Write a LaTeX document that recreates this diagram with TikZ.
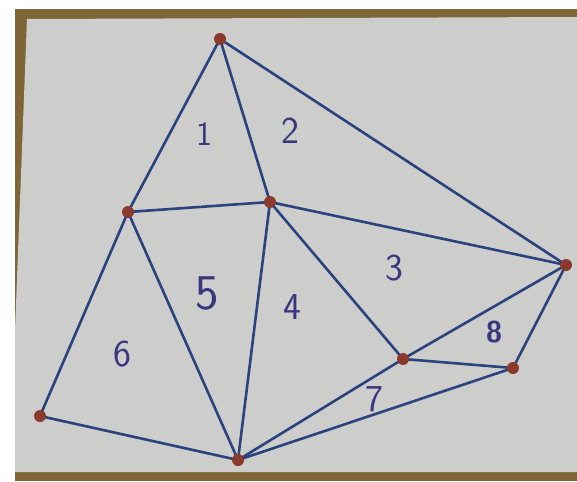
\documentclass[tikz,border=0pt]{standalone}
\usepackage{xcolor}
\definecolor{frame}{HTML}{7F6636}
\definecolor{paper}{HTML}{CDCECB}
\definecolor{wire}{HTML}{2A437F}
\definecolor{knob}{HTML}{8A3A2C}
\definecolor{ink}{HTML}{3A357F}
\usepackage{tikz}
\usetikzlibrary{positioning}

\begin{document}
\begin{tikzpicture}[x=1pt, y=-1pt,
    wire/.style={draw=wire, line width=2.6pt},
    knob/.style={circle, fill=knob, inner sep=0pt, minimum size=12pt},
    face/.style={font=\sffamily\fontsize{38}{38}\selectfont, text=ink}]
  \useasboundingbox (0,0) rectangle (577,481);
  \fill[white] (0,0) rectangle (577,481);
  % board and sheet
  \fill[frame] (15,9) rectangle (577,481);
  \fill[paper] (27,19) -- (577,17) -- (577,472) -- (15,472) -- (15,330) -- cycle;
  % corners of the triangulation
  \coordinate (A) at (220,39);
  \coordinate (B) at (128,212);
  \coordinate (C) at (270,202);
  \coordinate (D) at (566,265);
  \coordinate (E) at (40,416);
  \coordinate (F) at (238,460);
  \coordinate (G) at (403,359);
  \coordinate (H) at (513,368);
  % edges
  \foreach \p/\q in {A/B, A/C, A/D, B/C, C/D, B/E, B/F, C/F, C/G,
                     E/F, F/G, F/H, G/H, G/D, H/D}
    \draw[wire] (\p) -- (\q);
  \foreach \p in {A,B,C,D,E,F,G,H}
    \node[knob] (k\p) at (\p) {};
  % triangle numbers
  \node[face, font=\sffamily\fontsize{34}{34}\selectfont] (t1) at (204,134) {1};
  \node[face] (t2) at (290,131) {2};
  \node[face] (t3) at (394,268) {3};
  \node[face] (t4) at (292,307) {4};
  \node[face, font=\sffamily\fontsize{50}{50}\selectfont] (t5) at (207,293) {5};
  \node[face] (t6) at (122,354) {6};
  \node[face] (t7) at (374,399) {7};
  \node[face, font=\sffamily\bfseries\fontsize{30}{30}\selectfont] (t8) at (494,332) {8};
\end{tikzpicture}
\end{document}
